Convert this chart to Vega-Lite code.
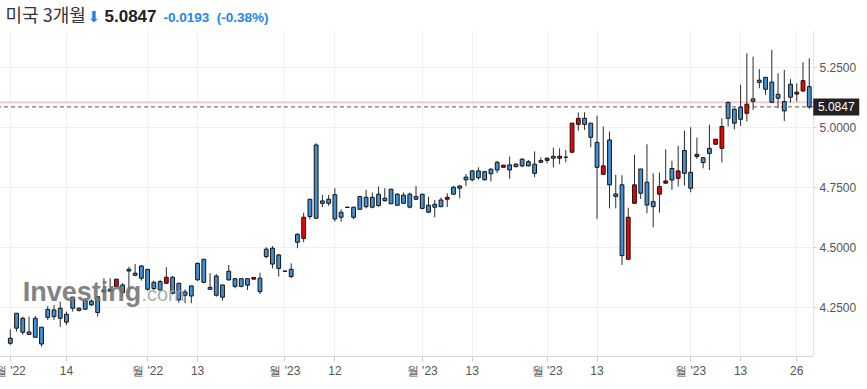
{
"$schema": "https://vega.github.io/schema/vega-lite/v6.json",
"width": 813, "height": 326,
"autosize": {"type": "none"},
"padding": {"left": 0, "top": 30, "right": 54, "bottom": 33},
"background": "white",
"config": {"view": {"stroke": null}, "font": "Liberation Sans"},
"resolve": {"axis": {"x": "independent", "y": "independent"}},
"datasets": {
"levels": [
{"level": "prev", "value": 5.104},
{"level": "last", "value": 5.0847, "date": "2023-04-28", "label": "5.0847"}
],
"candles": [
{"date":"2022-11-01","open":4.121,"high":4.158,"low":4.093,"close":4.100},
{"date":"2022-11-02","open":4.225,"high":4.225,"low":4.149,"close":4.163},
{"date":"2022-11-03","open":4.204,"high":4.211,"low":4.135,"close":4.146},
{"date":"2022-11-04","open":4.147,"high":4.211,"low":4.135,"close":4.137},
{"date":"2022-11-07","open":4.204,"high":4.214,"low":4.125,"close":4.125},
{"date":"2022-11-08","open":4.167,"high":4.167,"low":4.086,"close":4.097},
{"date":"2022-11-09","open":4.241,"high":4.255,"low":4.197,"close":4.208},
{"date":"2022-11-10","open":4.239,"high":4.260,"low":4.197,"close":4.211},
{"date":"2022-11-11","open":4.246,"high":4.274,"low":4.169,"close":4.204},
{"date":"2022-11-14","open":4.221,"high":4.232,"low":4.176,"close":4.188},
{"date":"2022-11-15","open":4.292,"high":4.294,"low":4.232,"close":4.246},
{"date":"2022-11-16","open":4.246,"high":4.250,"low":4.232,"close":4.237},
{"date":"2022-11-17","open":4.278,"high":4.288,"low":4.239,"close":4.242},
{"date":"2022-11-18","open":4.276,"high":4.283,"low":4.255,"close":4.260},
{"date":"2022-11-21","open":4.294,"high":4.294,"low":4.211,"close":4.228},
{"date":"2022-11-22","open":4.322,"high":4.371,"low":4.308,"close":4.314},
{"date":"2022-11-23","open":4.325,"high":4.371,"low":4.315,"close":4.317},
{"date":"2022-11-24","open":4.336,"high":4.367,"low":4.333,"close":4.367},
{"date":"2022-11-25","open":4.343,"high":4.350,"low":4.294,"close":4.312},
{"date":"2022-11-28","open":4.408,"high":4.419,"low":4.308,"close":4.401},
{"date":"2022-11-29","open":4.392,"high":4.430,"low":4.380,"close":4.383},
{"date":"2022-11-30","open":4.422,"high":4.426,"low":4.361,"close":4.371},
{"date":"2022-12-01","open":4.408,"high":4.408,"low":4.319,"close":4.325},
{"date":"2022-12-02","open":4.354,"high":4.361,"low":4.322,"close":4.328},
{"date":"2022-12-05","open":4.357,"high":4.364,"low":4.319,"close":4.322},
{"date":"2022-12-06","open":4.350,"high":4.417,"low":4.347,"close":4.375},
{"date":"2022-12-07","open":4.375,"high":4.380,"low":4.304,"close":4.308},
{"date":"2022-12-08","open":4.350,"high":4.350,"low":4.269,"close":4.281},
{"date":"2022-12-09","open":4.314,"high":4.325,"low":4.267,"close":4.300},
{"date":"2022-12-12","open":4.339,"high":4.339,"low":4.267,"close":4.297},
{"date":"2022-12-13","open":4.433,"high":4.436,"low":4.361,"close":4.364},
{"date":"2022-12-14","open":4.450,"high":4.450,"low":4.350,"close":4.354},
{"date":"2022-12-15","open":4.333,"high":4.392,"low":4.322,"close":4.325},
{"date":"2022-12-16","open":4.380,"high":4.389,"low":4.294,"close":4.300},
{"date":"2022-12-19","open":4.343,"high":4.343,"low":4.278,"close":4.292},
{"date":"2022-12-20","open":4.400,"high":4.426,"low":4.361,"close":4.364},
{"date":"2022-12-21","open":4.369,"high":4.369,"low":4.329,"close":4.337},
{"date":"2022-12-22","open":4.369,"high":4.369,"low":4.333,"close":4.337},
{"date":"2022-12-23","open":4.369,"high":4.369,"low":4.322,"close":4.342},
{"date":"2022-12-26","open":4.367,"high":4.374,"low":4.367,"close":4.374},
{"date":"2022-12-27","open":4.371,"high":4.394,"low":4.305,"close":4.315},
{"date":"2022-12-28","open":4.492,"high":4.500,"low":4.454,"close":4.461},
{"date":"2022-12-29","open":4.496,"high":4.505,"low":4.412,"close":4.430},
{"date":"2022-12-30","open":4.468,"high":4.472,"low":4.378,"close":4.412},
{"date":"2023-01-02","open":4.401,"high":4.402,"low":4.400,"close":4.400},
{"date":"2023-01-03","open":4.408,"high":4.433,"low":4.371,"close":4.378},
{"date":"2023-01-04","open":4.554,"high":4.558,"low":4.496,"close":4.521},
{"date":"2023-01-05","open":4.537,"high":4.644,"low":4.521,"close":4.625},
{"date":"2023-01-06","open":4.700,"high":4.700,"low":4.617,"close":4.628},
{"date":"2023-01-09","open":4.926,"high":4.933,"low":4.617,"close":4.621},
{"date":"2023-01-10","open":4.693,"high":4.718,"low":4.667,"close":4.683},
{"date":"2023-01-11","open":4.700,"high":4.718,"low":4.672,"close":4.683},
{"date":"2023-01-12","open":4.719,"high":4.746,"low":4.607,"close":4.618},
{"date":"2023-01-13","open":4.646,"high":4.658,"low":4.607,"close":4.625},
{"date":"2023-01-16","open":4.667,"high":4.668,"low":4.666,"close":4.666},
{"date":"2023-01-17","open":4.667,"high":4.667,"low":4.617,"close":4.625},
{"date":"2023-01-18","open":4.711,"high":4.714,"low":4.656,"close":4.658},
{"date":"2023-01-19","open":4.708,"high":4.739,"low":4.662,"close":4.669},
{"date":"2023-01-20","open":4.708,"high":4.728,"low":4.662,"close":4.667},
{"date":"2023-01-23","open":4.721,"high":4.753,"low":4.669,"close":4.674},
{"date":"2023-01-24","open":4.704,"high":4.746,"low":4.690,"close":4.694},
{"date":"2023-01-25","open":4.742,"high":4.742,"low":4.681,"close":4.681},
{"date":"2023-01-26","open":4.721,"high":4.725,"low":4.672,"close":4.675},
{"date":"2023-01-27","open":4.717,"high":4.728,"low":4.681,"close":4.683},
{"date":"2023-01-30","open":4.721,"high":4.728,"low":4.662,"close":4.667},
{"date":"2023-01-31","open":4.711,"high":4.755,"low":4.697,"close":4.700},
{"date":"2023-02-01","open":4.721,"high":4.721,"low":4.658,"close":4.662},
{"date":"2023-02-02","open":4.675,"high":4.711,"low":4.642,"close":4.646},
{"date":"2023-02-03","open":4.679,"high":4.697,"low":4.625,"close":4.667},
{"date":"2023-02-06","open":4.697,"high":4.707,"low":4.667,"close":4.669},
{"date":"2023-02-07","open":4.700,"high":4.725,"low":4.667,"close":4.708},
{"date":"2023-02-08","open":4.750,"high":4.756,"low":4.718,"close":4.721},
{"date":"2023-02-09","open":4.755,"high":4.760,"low":4.704,"close":4.746},
{"date":"2023-02-10","open":4.792,"high":4.805,"low":4.755,"close":4.781},
{"date":"2023-02-13","open":4.818,"high":4.822,"low":4.774,"close":4.781},
{"date":"2023-02-14","open":4.818,"high":4.833,"low":4.781,"close":4.790},
{"date":"2023-02-15","open":4.815,"high":4.815,"low":4.778,"close":4.781},
{"date":"2023-02-16","open":4.825,"high":4.829,"low":4.774,"close":4.806},
{"date":"2023-02-17","open":4.854,"high":4.860,"low":4.808,"close":4.822},
{"date":"2023-02-20","open":4.833,"high":4.842,"low":4.833,"close":4.842},
{"date":"2023-02-21","open":4.843,"high":4.878,"low":4.785,"close":4.822},
{"date":"2023-02-22","open":4.846,"high":4.850,"low":4.832,"close":4.836},
{"date":"2023-02-23","open":4.867,"high":4.871,"low":4.833,"close":4.839},
{"date":"2023-02-24","open":4.856,"high":4.864,"low":4.836,"close":4.839},
{"date":"2023-02-27","open":4.846,"high":4.899,"low":4.792,"close":4.808},
{"date":"2023-02-28","open":4.861,"high":4.874,"low":4.850,"close":4.854},
{"date":"2023-03-01","open":4.862,"high":4.874,"low":4.850,"close":4.871},
{"date":"2023-03-02","open":4.879,"high":4.915,"low":4.832,"close":4.871},
{"date":"2023-03-03","open":4.871,"high":4.912,"low":4.846,"close":4.879},
{"date":"2023-03-06","open":4.875,"high":4.905,"low":4.854,"close":4.875},
{"date":"2023-03-07","open":4.896,"high":5.017,"low":4.892,"close":5.017},
{"date":"2023-03-08","open":5.012,"high":5.062,"low":4.985,"close":5.037},
{"date":"2023-03-09","open":5.037,"high":5.062,"low":4.989,"close":5.012},
{"date":"2023-03-10","open":5.017,"high":5.017,"low":4.917,"close":4.958},
{"date":"2023-03-13","open":4.937,"high":5.048,"low":4.618,"close":4.833},
{"date":"2023-03-14","open":4.804,"high":5.003,"low":4.801,"close":4.839},
{"date":"2023-03-15","open":4.947,"high":4.982,"low":4.662,"close":4.760},
{"date":"2023-03-16","open":4.722,"high":4.801,"low":4.662,"close":4.712},
{"date":"2023-03-17","open":4.760,"high":4.800,"low":4.426,"close":4.465},
{"date":"2023-03-20","open":4.450,"high":4.665,"low":4.447,"close":4.625},
{"date":"2023-03-21","open":4.683,"high":4.885,"low":4.683,"close":4.760},
{"date":"2023-03-22","open":4.826,"high":4.826,"low":4.701,"close":4.725},
{"date":"2023-03-23","open":4.771,"high":4.929,"low":4.642,"close":4.676},
{"date":"2023-03-24","open":4.690,"high":4.808,"low":4.583,"close":4.669},
{"date":"2023-03-27","open":4.721,"high":4.811,"low":4.644,"close":4.753},
{"date":"2023-03-28","open":4.767,"high":4.908,"low":4.764,"close":4.776},
{"date":"2023-03-29","open":4.828,"high":4.860,"low":4.739,"close":4.780},
{"date":"2023-03-30","open":4.787,"high":4.922,"low":4.753,"close":4.818},
{"date":"2023-03-31","open":4.903,"high":4.986,"low":4.757,"close":4.808},
{"date":"2023-04-03","open":4.812,"high":5.000,"low":4.729,"close":4.746},
{"date":"2023-04-04","open":4.878,"high":4.957,"low":4.868,"close":4.887},
{"date":"2023-04-05","open":4.873,"high":4.873,"low":4.829,"close":4.853},
{"date":"2023-04-06","open":4.912,"high":5.010,"low":4.822,"close":4.891},
{"date":"2023-04-07","open":4.929,"high":4.950,"low":4.929,"close":4.950},
{"date":"2023-04-10","open":4.912,"high":5.037,"low":4.853,"close":5.003},
{"date":"2023-04-11","open":5.103,"high":5.107,"low":5.003,"close":5.037},
{"date":"2023-04-12","open":5.075,"high":5.079,"low":4.992,"close":5.017},
{"date":"2023-04-13","open":5.083,"high":5.176,"low":5.005,"close":5.033},
{"date":"2023-04-14","open":5.058,"high":5.308,"low":5.024,"close":5.096},
{"date":"2023-04-17","open":5.118,"high":5.294,"low":5.072,"close":5.108},
{"date":"2023-04-18","open":5.196,"high":5.242,"low":5.162,"close":5.187},
{"date":"2023-04-19","open":5.208,"high":5.208,"low":5.135,"close":5.158},
{"date":"2023-04-20","open":5.188,"high":5.322,"low":5.100,"close":5.104},
{"date":"2023-04-21","open":5.137,"high":5.225,"low":5.079,"close":5.121},
{"date":"2023-04-24","open":5.107,"high":5.239,"low":5.026,"close":5.068},
{"date":"2023-04-25","open":5.179,"high":5.200,"low":5.103,"close":5.125},
{"date":"2023-04-26","open":5.138,"high":5.183,"low":5.107,"close":5.146},
{"date":"2023-04-27","open":5.151,"high":5.270,"low":5.146,"close":5.194},
{"date":"2023-04-28","open":5.169,"high":5.287,"low":5.076,"close":5.0847}
]
},
"layer": [
{
"data": {"name": "levels"},
"transform": [{"filter": "datum.level == 'prev'"}],
"mark": {"type": "rule", "color": "#fbcaca", "strokeWidth": 2},
"encoding": {
"y": {"field": "value", "type": "quantitative",
"scale": {"domain": [4.047, 5.405], "nice": false, "zero": false},
"axis": {"orient": "left", "title": "미국 3개월", "labels": false, "ticks": false, "domain": false, "grid": false,
"titleAngle": 0, "titleX": 5, "titleY": -9, "titleAlign": "left", "titleBaseline": "alphabetic",
"titleFont": "Noto Sans CJK KR", "titleFontSize": 18, "titleFontWeight": "normal", "titleColor": "#333333"}}
}
},
{
"data": {"name": "levels"},
"transform": [{"filter": "datum.level == 'last'"}],
"mark": {"type": "rule", "color": "#555555", "strokeWidth": 1, "strokeDash": [4, 3]},
"encoding": {
"y": {"field": "value", "type": "quantitative",
"axis": {"orient": "left", "title": "5.0847", "labels": false, "ticks": false, "domain": false, "grid": false,
"titleAngle": 0, "titleX": 104, "titleY": -9, "titleAlign": "left", "titleBaseline": "alphabetic",
"titleFont": "Liberation Sans", "titleFontSize": 17, "titleFontWeight": "bold", "titleColor": "#222222"}}
}
},
{
"data": {"name": "candles"},
"mark": {"type": "rule", "color": "#2a2a2a", "strokeWidth": 1},
"encoding": {
"x": {"field": "date", "type": "ordinal",
"scale": {"type": "band", "paddingInner": 0, "paddingOuter": 0.625, "align": 0.92},
"axis": {"orient": "bottom", "title": null,
"values": ["2022-11-01","2022-11-14","2022-12-01","2022-12-13","2023-01-02","2023-01-12","2023-02-01","2023-02-13","2023-03-01","2023-03-13","2023-04-03","2023-04-13","2023-04-26"],
"labelExpr": "toNumber(slice(datum.value, 8)) <= 3 ? \"월 '\" + slice(datum.value, 2, 4) : toString(toNumber(slice(datum.value, 8)))",
"labelAngle": 0, "labelFont": "Liberation Sans", "labelFontSize": 12, "labelColor": "#555555",
"labelPadding": 4, "tickSize": 5, "tickColor": "#cccccc", "domainColor": "#d8d8d8",
"grid": true, "gridColor": "#f2f2f2", "bandPosition": 0.5, "labelOverlap": false, "labelBound": false}},
"y": {"field": "low", "type": "quantitative",
"axis": {"orient": "right", "title": null, "format": ".4f", "values": [4.25, 4.5, 4.75, 5.0, 5.25],
"labelFont": "Liberation Sans", "labelFontSize": 12, "labelColor": "#555555", "labelPadding": 3,
"tickSize": 3, "tickColor": "#cccccc", "domainColor": "#e3e3e3", "grid": true, "gridColor": "#f0f0f0"}},
"y2": {"field": "high"}
}
},
{
"data": {"name": "candles"},
"mark": {"type": "bar", "width": 3.8, "stroke": "#111111", "strokeWidth": 1},
"encoding": {
"x": {"field": "date", "type": "ordinal", "axis": null},
"y": {"field": "open", "type": "quantitative", "axis": null},
"y2": {"field": "close"},
"fill": {"condition": {"test": "datum.close > datum.open", "value": "#f20000"}, "value": "#4191d9"}
}
},
{
"data": {"values": [{"brand": "Investing", "tld": ".com"}]},
"mark": {"type": "text", "align": "left", "baseline": "alphabetic", "font": "Liberation Sans", "fontSize": 27, "fontWeight": "bold", "color": "#767676", "opacity": 0.9},
"encoding": {
"x": {"datum": "2022-11-03", "type": "ordinal", "axis": null},
"y": {"datum": 4.278, "type": "quantitative", "axis": null},
"text": {"field": "brand"}
}
},
{
"data": {"values": [{"brand": "Investing", "tld": ".com"}]},
"mark": {"type": "text", "align": "left", "baseline": "alphabetic", "font": "Liberation Sans", "fontSize": 20, "color": "#a0a0a0", "opacity": 0.85},
"encoding": {
"x": {"datum": "2022-11-30", "type": "ordinal", "axis": null},
"y": {"datum": 4.278, "type": "quantitative", "axis": null},
"text": {"field": "tld"}
}
},
{
"data": {"name": "levels"},
"transform": [{"filter": "datum.level == 'last'"}],
"mark": {"type": "tick", "color": "#222222", "size": 46, "thickness": 17, "xOffset": 27, "opacity": 1},
"encoding": {
"x": {"field": "date", "type": "ordinal",
"axis": {"orient": "top", "title": "⬇", "labels": false, "ticks": false, "domain": false, "grid": false,
"titleX": 87, "titleY": -9, "titleAlign": "left", "titleBaseline": "alphabetic",
"titleFont": "DejaVu Sans", "titleFontSize": 15, "titleFontWeight": "normal", "titleColor": "#1e88e5"}},
"y": {"field": "value", "type": "quantitative", "axis": null}
}
},
{
"data": {"name": "levels"},
"transform": [{"filter": "datum.level == 'last'"}],
"mark": {"type": "text", "color": "white", "font": "Liberation Sans", "fontSize": 12, "align": "center", "baseline": "middle", "dx": 27},
"encoding": {
"x": {"field": "date", "type": "ordinal",
"axis": {"orient": "top", "title": "-0.0193\u00a0 (-0.38%)", "labels": false, "ticks": false, "domain": false, "grid": false,
"titleX": 163, "titleY": -9, "titleAlign": "left", "titleBaseline": "alphabetic",
"titleFont": "Liberation Sans", "titleFontSize": 13.5, "titleFontWeight": "bold", "titleColor": "#1e88e5"}},
"y": {"field": "value", "type": "quantitative", "axis": null},
"text": {"field": "label"}
}
}
]
}
